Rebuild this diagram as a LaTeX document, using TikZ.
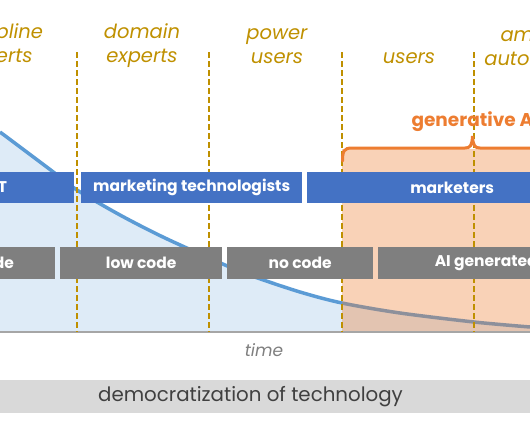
\documentclass[tikz,border=0pt]{standalone}
\usepackage{fontspec}
\setmainfont{Poppins}
\definecolor{gold}{HTML}{BF9000}
\definecolor{boxblue}{HTML}{4472C4}
\definecolor{boxgray}{HTML}{7F7F7F}
\definecolor{areablue}{HTML}{DEEBF7}
\definecolor{curveblue}{HTML}{5B9BD5}
\definecolor{genorange}{HTML}{ED7D31}
\definecolor{bandgray}{HTML}{D9D9D9}
\definecolor{textdark}{HTML}{404040}
\begin{document}
\begin{tikzpicture}[x=1pt,y=-1pt,
  header/.style={text=gold, font=\fontsize{19.5}{24}\selectfont\itshape, align=center},
  bluebox/.style={fill=boxblue, text=white, font=\fontsize{15.5}{18}\selectfont\bfseries, minimum height=31pt, inner sep=0pt, anchor=west},
  graybox/.style={fill=boxgray, text=white, font=\fontsize{15.5}{18}\selectfont\bfseries, minimum height=32pt, inner sep=0pt, anchor=west},
  divider/.style={gold, line width=2pt, dash pattern=on 5.5pt off 3.5pt},
]
\useasboundingbox (0,0) rectangle (530,442);
\clip (0,0) rectangle (530,442);
% area under curve
\fill[areablue] (0,332) -- plot[smooth] coordinates {(0,132) (52,171) (77,190) (120,215) (165,238) (225,265) (252,276) (300,292) (342,303) (400,313) (474,322) (530,327)} -- (530,332) -- cycle;
\draw[curveblue, line width=3.5pt] plot[smooth] coordinates {(0,132) (52,171) (77,190) (120,215) (165,238) (225,265) (252,276) (300,292) (342,303) (400,313) (474,322) (530,327)};
% generative AI zone
\fill[genorange, opacity=0.35] (342,149) rectangle (540,332);
% baseline
\draw[color=black!35, line width=2pt] (-5,332) -- (540,332);
% dividers
\coordinate (d1t) at (77,52); \coordinate (d1b) at (77,332);
\coordinate (d2t) at (209,52); \coordinate (d2b) at (209,332);
\coordinate (d3t) at (342,52); \coordinate (d3b) at (342,332);
\coordinate (d4t) at (474,52); \coordinate (d4b) at (474,332);
\draw[divider] (d1t) -- (d1b);
\draw[divider] (d2t) -- (d2b);
\draw[divider] (d3t) -- (d3b);
\draw[divider] (d4t) -- (d4b);
% headers
\node[header] (h0) at (-3,46) {discipline\\experts};
\node[header] (h1) at (142,46) {domain\\experts};
\node[header] (h2) at (277,46) {power\\users};
\node[header] (h3) at (409,58) {users};
\node[header] (h4) at (542,46) {ambient\\automation};
% blue row
\node[bluebox, minimum width=148pt] (it) at (-74,187.5) {IT};
\node[bluebox, minimum width=221pt] (mt) at (81,187.5) {marketing technologists};
\node[bluebox, minimum width=290pt] (mk) at (307,187.5) {marketers};
% gray row
\node[graybox, minimum width=122pt] (c0) at (-67,263) {code};
\node[graybox, minimum width=162pt] (c1) at (60,263) {low code};
\node[graybox, minimum width=146pt] (c2) at (227,263) {no code};
\node[graybox, minimum width=216pt] (c3) at (378,263) {AI generated};
% brace
\draw[genorange, line width=3pt, line cap=round] (342.5,161) .. controls (342.5,151) and (344,148) .. (352,148) -- (465,148) .. controls (470,148) and (472,146) .. (472.5,136) .. controls (473,146) and (475,148) .. (480,148) -- (545,148);
\node[text=genorange, font=\fontsize{18.5}{22}\selectfont\bfseries, anchor=west] (gen) at (408,122) {generative AI};
% time
\node[text=boxgray, font=\fontsize{17}{20}\selectfont\itshape] (time) at (264,350) {time};
% democratization band
\node[fill=bandgray, minimum width=540pt, minimum height=33pt, inner sep=0pt] (band) at (265,396.5) {};
\node[text=textdark, font=\fontsize{19.8}{22}\selectfont] (dem) at (250.5,396.5) {democratization of technology};
\end{tikzpicture}
\end{document}
